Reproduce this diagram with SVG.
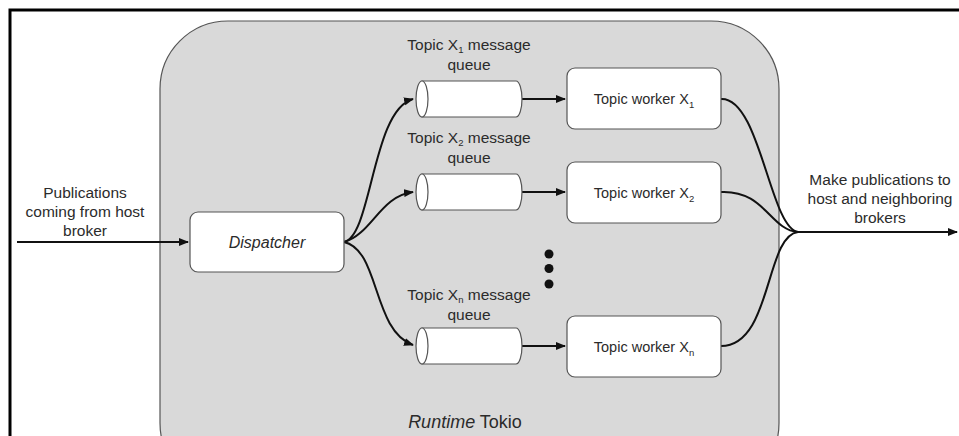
<svg xmlns="http://www.w3.org/2000/svg" width="959" height="436" viewBox="0 0 959 436">
  <style>
    text { font-family: "Liberation Sans", Arial, sans-serif; fill: #2b2b2b; }
    .lbl { font-size: 15.5px; text-anchor: middle; }
    .box { fill: #fff; stroke: #555; stroke-width: 1.2; }
    .cyl { fill: #fff; stroke: #555; stroke-width: 1.2; }
    .edge { fill: none; stroke: #111; stroke-width: 2; }
    .sub { font-size: 9.5px; }
  </style>
  <defs>
    <marker id="arrow" viewBox="0 0 10 10" refX="9" refY="5" markerWidth="5" markerHeight="5" orient="auto" markerUnits="strokeWidth">
      <path d="M0,1 L10,5 L0,9 z" fill="#111"/>
    </marker>
  </defs>

  <rect width="959" height="436" fill="#fff"/>
  <!-- outer frame -->
  <path d="M10,436 V10 H959" fill="none" stroke="#000" stroke-width="3"/>

  <!-- runtime container -->
  <g id="runtime">
    <rect x="160" y="21" width="619" height="470" rx="68" fill="#d9d9d9" stroke="#555" stroke-width="1.2"/>
    <text x="465" y="428" class="lbl" style="font-size:18px"><tspan font-style="italic">Runtime</tspan> Tokio</text>
  </g>

  <!-- connectors -->
  <g id="connectors">
    <path class="edge" d="M17,242 H188" marker-end="url(#arrow)"/>
    <path class="edge" d="M344,242 C372,236 372,110 413,99" marker-end="url(#arrow)"/>
    <path class="edge" d="M344,242 C372,234 380,196 413,192" marker-end="url(#arrow)"/>
    <path class="edge" d="M344,242 C380,250 372,330 413,345" marker-end="url(#arrow)"/>
    <path class="edge" d="M522,99 H565" marker-end="url(#arrow)"/>
    <path class="edge" d="M522,192 H565" marker-end="url(#arrow)"/>
    <path class="edge" d="M522,346 H565" marker-end="url(#arrow)"/>
    <path class="edge" d="M721,99 C760,97 770,228 798,232"/>
    <path class="edge" d="M721,192 C765,190 770,230 798,232"/>
    <path class="edge" d="M721,346 C772,346 765,236 798,232"/>
    <path class="edge" d="M796,232 H957" marker-end="url(#arrow)"/>
  </g>

  <!-- input label -->
  <g id="input-label">
    <text class="lbl" x="85" y="198">Publications</text>
    <text class="lbl" x="85" y="217">coming from host</text>
    <text class="lbl" x="85" y="236">broker</text>
  </g>

  <!-- output label -->
  <g id="output-label">
    <text class="lbl" x="880" y="185">Make publications to</text>
    <text class="lbl" x="880" y="204">host and neighboring</text>
    <text class="lbl" x="880" y="223">brokers</text>
  </g>

  <!-- dispatcher -->
  <g id="dispatcher">
    <rect class="box" x="190" y="212" width="154" height="60" rx="8"/>
    <text class="lbl" x="267" y="248" font-style="italic" style="font-size:16px">Dispatcher</text>
  </g>

  <!-- queues -->
  <g id="queue-1">
    <text class="lbl" x="469" y="50">Topic X<tspan class="sub" dy="3">1</tspan><tspan dy="-3"> message</tspan></text>
    <text class="lbl" x="469" y="70">queue</text>
    <path class="cyl" d="M422,81 H516 A6,18 0 0 1 516,117 H422 Z"/>
    <ellipse class="cyl" cx="422" cy="99" rx="6" ry="18"/>
  </g>
  <g id="queue-2">
    <text class="lbl" x="469" y="143">Topic X<tspan class="sub" dy="3">2</tspan><tspan dy="-3"> message</tspan></text>
    <text class="lbl" x="469" y="163">queue</text>
    <path class="cyl" d="M422,174 H516 A6,18 0 0 1 516,210 H422 Z"/>
    <ellipse class="cyl" cx="422" cy="192" rx="6" ry="18"/>
  </g>
  <g id="queue-n">
    <text class="lbl" x="469" y="300">Topic X<tspan class="sub" dy="3">n</tspan><tspan dy="-3"> message</tspan></text>
    <text class="lbl" x="469" y="320">queue</text>
    <path class="cyl" d="M422,328 H516 A6,18 0 0 1 516,364 H422 Z"/>
    <ellipse class="cyl" cx="422" cy="346" rx="6" ry="18"/>
  </g>

  <!-- workers -->
  <g id="worker-1">
    <rect class="box" x="567" y="68" width="154" height="61" rx="8"/>
    <text class="lbl" x="644" y="104" style="font-size:14.5px">Topic worker X<tspan class="sub" dy="4">1</tspan></text>
  </g>
  <g id="worker-2">
    <rect class="box" x="567" y="162" width="154" height="61" rx="8"/>
    <text class="lbl" x="644" y="198" style="font-size:14.5px">Topic worker X<tspan class="sub" dy="4">2</tspan></text>
  </g>
  <g id="worker-n">
    <rect class="box" x="567" y="316" width="154" height="61" rx="8"/>
    <text class="lbl" x="644" y="352" style="font-size:14.5px">Topic worker X<tspan class="sub" dy="4">n</tspan></text>
  </g>

  <!-- ellipsis -->
  <g id="ellipsis" fill="#111">
    <circle cx="549" cy="254" r="4.5"/>
    <circle cx="549" cy="268.5" r="4.5"/>
    <circle cx="549" cy="284" r="4.5"/>
  </g>
</svg>
